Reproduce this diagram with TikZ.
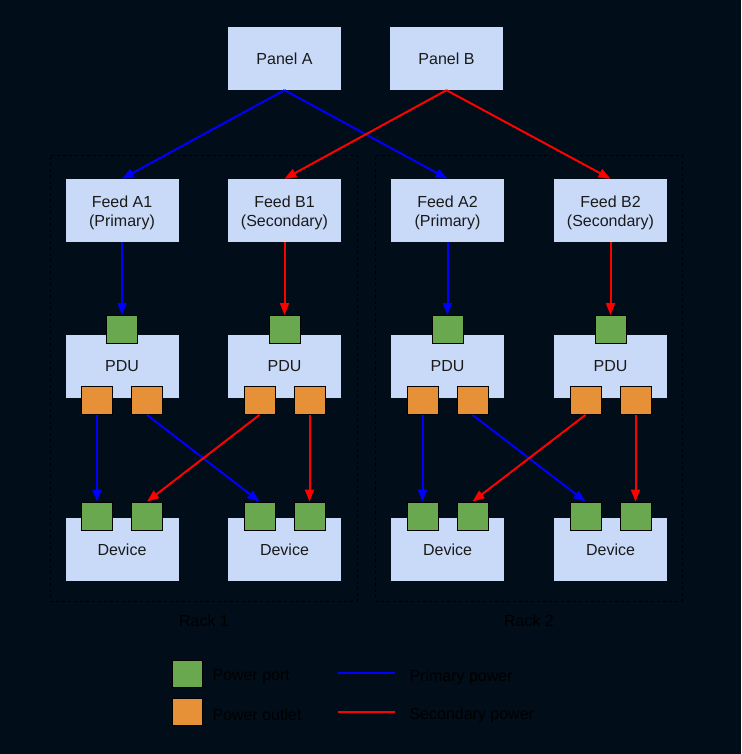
\documentclass[tikz,border=0pt]{standalone}
\usepackage{fontspec}
\setmainfont{Liberation Sans}
\usetikzlibrary{arrows.meta}
\definecolor{bgc}{HTML}{020D1A}
\definecolor{boxc}{HTML}{C9DAF8}
\definecolor{portc}{HTML}{6AA84F}
\definecolor{outc}{HTML}{E69138}
\definecolor{txtc}{HTML}{1A1A1A}
\definecolor{prim}{HTML}{0000FF}
\definecolor{sec}{HTML}{FF0000}
% two centred lines, drawn slightly lower than their box
\newcommand{\twolines}[2]{\raisebox{-3pt}[\height][\depth]{\begin{tabular}{@{}c@{}}#1\\#2\end{tabular}}}
\begin{document}
\begin{tikzpicture}[x=1pt,y=-1pt,
  every node/.style={font=\fontsize{16}{19}\selectfont},
  unit/.style={fill=boxc, text=txtc, minimum width=113pt, minimum height=63pt, inner sep=0pt, align=center},
  portbox/.style={draw=black, line width=0.8pt, fill=portc, minimum width=31pt, minimum height=28pt, inner sep=0pt},
  outbox/.style={draw=black, line width=0.8pt, fill=outc, minimum width=31pt, minimum height=28pt, inner sep=0pt},
  rack/.style={draw=black, dashed, line width=0.8pt, minimum width=307pt, minimum height=446pt, inner sep=0pt},
  racklabel/.style={text=black},
  wire/.style={line width=2pt, -{Triangle[length=12pt,width=9pt]}},
  pwrA/.style={wire, draw=prim},
  pwrB/.style={wire, draw=sec},
  legline/.style={line width=2pt}
]
\fill[bgc] (0,0) rectangle (741,754);
\useasboundingbox (0,0) rectangle (741,754);

% rack enclosures
\node[rack] (rack1) at (203.5,378) {};
\node[rack] (rack2) at (528.5,378) {};
\node[racklabel] (rl1) at (204,621) {Rack 1};
\node[racklabel] (rl2) at (529,621) {Rack 2};

% panels
\node[unit] (panA) at (284.5,58.5) {Panel A};
\node[unit] (panB) at (446.5,58.5) {Panel B};

% feeds
\node[unit] (fA1) at (122,210.5) {\twolines{Feed A1}{(Primary)}};
\node[unit] (fB1) at (284.5,210.5) {\twolines{Feed B1}{(Secondary)}};
\node[unit] (fA2) at (447.5,210.5) {\twolines{Feed A2}{(Primary)}};
\node[unit] (fB2) at (610.5,210.5) {\twolines{Feed B2}{(Secondary)}};

% PDUs with inlet port and two outlets
\foreach \n/\x in {p1/122, p2/284.5, p3/447.5, p4/610.5}{
  \node[unit] (\n) at (\x,366.5) {PDU};
  \node[portbox] (\n in) at (\x,329.5) {};
  \node[outbox] (\n o1) at (\x-25,400.5) {};
  \node[outbox] (\n o2) at (\x+25,400.5) {};
}

% devices with two inlet ports
\foreach \n/\x in {d1/122, d2/284.5, d3/447.5, d4/610.5}{
  \node[unit] (\n) at (\x,549.5) {Device};
  \node[portbox] (\n a) at (\x-25,516) {};
  \node[portbox] (\n b) at (\x+25,516) {};
}

% panel to feed
\draw[pwrA] (panA.south) -- (fA1.north);
\draw[pwrA] (panA.south) -- (fA2.north);
\draw[pwrB] (panB.south) -- (fB1.north);
\draw[pwrB] (panB.south) -- (fB2.north);

% feed to PDU
\draw[pwrA] (fA1.south) -- (p1in.north);
\draw[pwrB] (fB1.south) -- (p2in.north);
\draw[pwrA] (fA2.south) -- (p3in.north);
\draw[pwrB] (fB2.south) -- (p4in.north);

% PDU outlets to devices
\draw[pwrA] (p1o1.south) -- (d1a.north);
\draw[pwrA] (p1o2.south) -- (d2a.north);
\draw[pwrB] (p2o1.south) -- (d1b.north);
\draw[pwrB] (p2o2.south) -- (d2b.north);
\draw[pwrA] (p3o1.south) -- (d3a.north);
\draw[pwrA] (p3o2.south) -- (d4a.north);
\draw[pwrB] (p4o1.south) -- (d3b.north);
\draw[pwrB] (p4o2.south) -- (d4b.north);

% legend
\node[portbox, minimum width=30pt, minimum height=27pt] (lgport) at (187,673.5) {};
\node[outbox, minimum width=30pt, minimum height=27pt] (lgout) at (187,712) {};
\node[anchor=west, text=black] (lgporttxt) at (209,677) {Power port};
\node[anchor=west, text=black] (lgouttxt) at (209,715) {Power outlet};
\coordinate (la1) at (338,673);
\coordinate (la2) at (395,673);
\coordinate (lb1) at (338,712);
\coordinate (lb2) at (395,712);
\draw[legline, draw=prim] (la1) -- (la2);
\draw[legline, draw=sec] (lb1) -- (lb2);
\node[anchor=west, text=black] (lgprim) at (406,677) {Primary power};
\node[anchor=west, text=black] (lgsec) at (406,715) {Secondary power};
\end{tikzpicture}
\end{document}
